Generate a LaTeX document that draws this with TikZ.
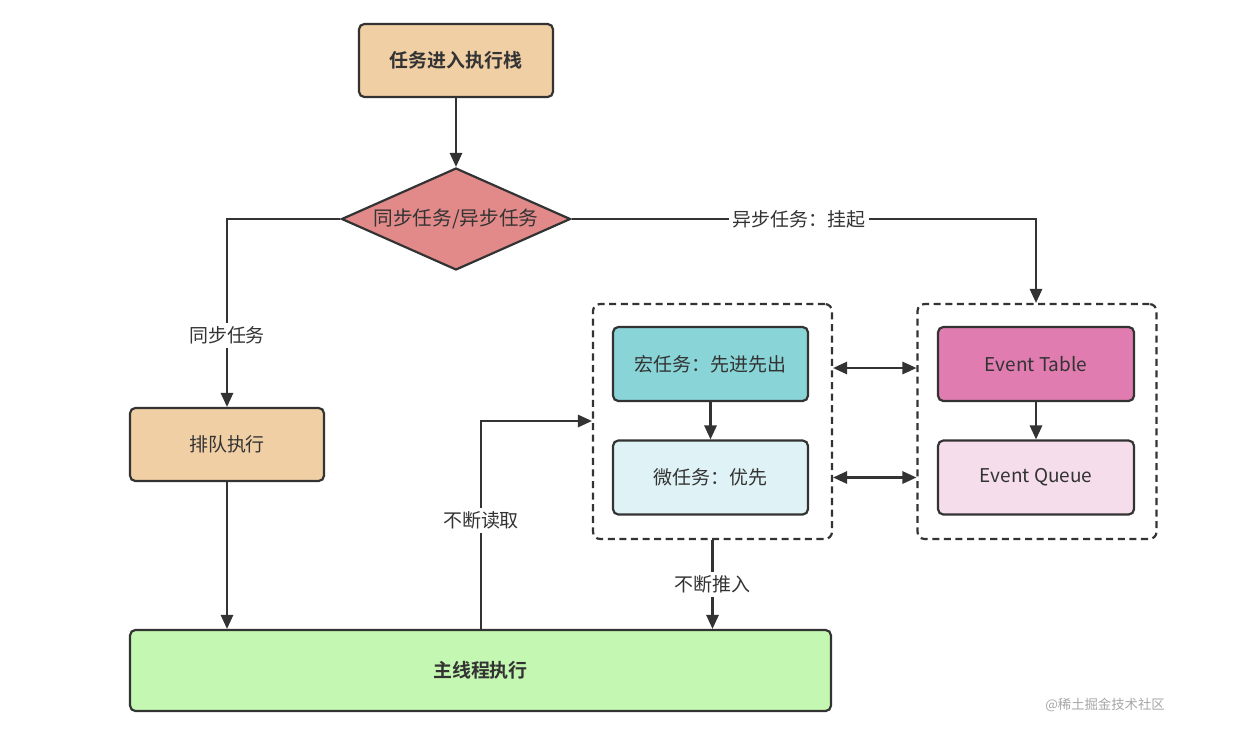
\documentclass[tikz,border=0pt]{standalone}
\usepackage{fontspec}
\setmainfont{Noto Sans CJK SC}[BoldFont={Noto Sans CJK SC Bold}]
\definecolor{inkgray}{RGB}{51,51,51}
\definecolor{tanfill}{RGB}{241,207,165}
\definecolor{rosefill}{RGB}{226,138,138}
\definecolor{mintfill}{RGB}{196,247,177}
\definecolor{tealfill}{RGB}{136,212,215}
\definecolor{icefill}{RGB}{223,242,245}
\definecolor{pinkfill}{RGB}{224,124,176}
\definecolor{blushfill}{RGB}{245,221,236}
\usetikzlibrary{
  shapes.geometric,
  arrows.meta,
  positioning
}

\begin{document}
\begin{tikzpicture}[
  x=0.02cm, y=-0.02cm,
  font=\fontsize{10.8}{13}\selectfont, text=inkgray,
  task/.style={rectangle, draw=inkgray, line width=1.25pt, rounded corners=3pt, minimum width=3.88cm, minimum height=1.46cm, inner sep=0pt, align=center},
  decision/.style={diamond, draw=inkgray, line width=1.25pt, fill=rosefill, aspect=2.25, minimum width=4.58cm, minimum height=2.04cm, inner sep=0pt, font=\fontsize{11.2}{13}\selectfont},
  group/.style={rectangle, draw=inkgray, line width=1.25pt, dash pattern=on 4pt off 2.6pt, rounded corners=4pt, minimum width=4.78cm, minimum height=4.7cm},
  arr/.style={-{Triangle[length=8pt,width=7pt]}, draw=inkgray, line width=1.25pt},
  dbl/.style={{Triangle[length=8pt,width=7pt]}-{Triangle[length=8pt,width=7pt]}, draw=inkgray, line width=1.25pt},
  lbl/.style={fill=white, inner sep=2pt}
]
  \useasboundingbox (0,0) rectangle (1256,734);

  \node[task, fill=tanfill, font=\fontsize{10.8}{13}\selectfont\bfseries] (enter) at (456,60.5) {任务进入执行栈};
  \node[decision] (dec) at (456,219) {同步任务/异步任务};
  \node[task, fill=tanfill] (queue) at (227,444.5) {排队执行};
  \node[task, fill=mintfill, minimum width=14.02cm, minimum height=1.62cm, font=\fontsize{10.8}{13}\selectfont\bfseries] (main) at (480.5,670.5) {主线程执行};

  \node[group] (lgrp) at (712.5,421.5) {};
  \node[group] (rgrp) at (1037,421.5) {};
  \node[task, fill=tealfill, minimum width=3.9cm, minimum height=1.48cm] (macro) at (710.5,364) {宏任务：先进先出};
  \node[task, fill=icefill, minimum width=3.9cm, minimum height=1.48cm] (micro) at (710.5,477.5) {微任务：优先};
  \node[task, fill=pinkfill, minimum width=3.92cm, minimum height=1.48cm] (etab) at (1036,364) {Event Table};
  \node[task, fill=blushfill, minimum width=3.92cm, minimum height=1.48cm] (equeue) at (1036,477.5) {Event Queue};

  \coordinate (bend) at (1036,219);
  \coordinate (rd) at (481,421);
  \coordinate (swap) at (875,368);

  \draw[arr] (enter) -- (dec);
  \draw[arr] (dec.west) -| node[lbl, pos=0.81]{同步任务} (queue.north);
  \draw[arr] (dec.east) -- node[lbl, pos=0.49]{异步任务：挂起} (bend) -- (rgrp.north -| bend);
  \draw[arr] (queue) -- (queue.south |- main.north);
  \draw[arr] (macro) -- (micro);
  \draw[arr] (etab) -- (equeue);
  \draw[dbl] (lgrp.east |- swap) -- (rgrp.west |- swap);
  \draw[dbl] (lgrp.east |- micro) -- (rgrp.west |- micro);
  \draw[arr] (main.north -| rd) -- node[lbl, pos=0.52]{不断读取} (rd) -- (lgrp.west |- rd);
  \draw[arr] (lgrp.south) -- node[lbl]{不断推入} (lgrp.south |- main.north);

  \node[text=gray!70, font=\fontsize{7.6}{9}\selectfont] (mark) at (1105,705) {@稀土掘金技术社区};
\end{tikzpicture}
\end{document}
